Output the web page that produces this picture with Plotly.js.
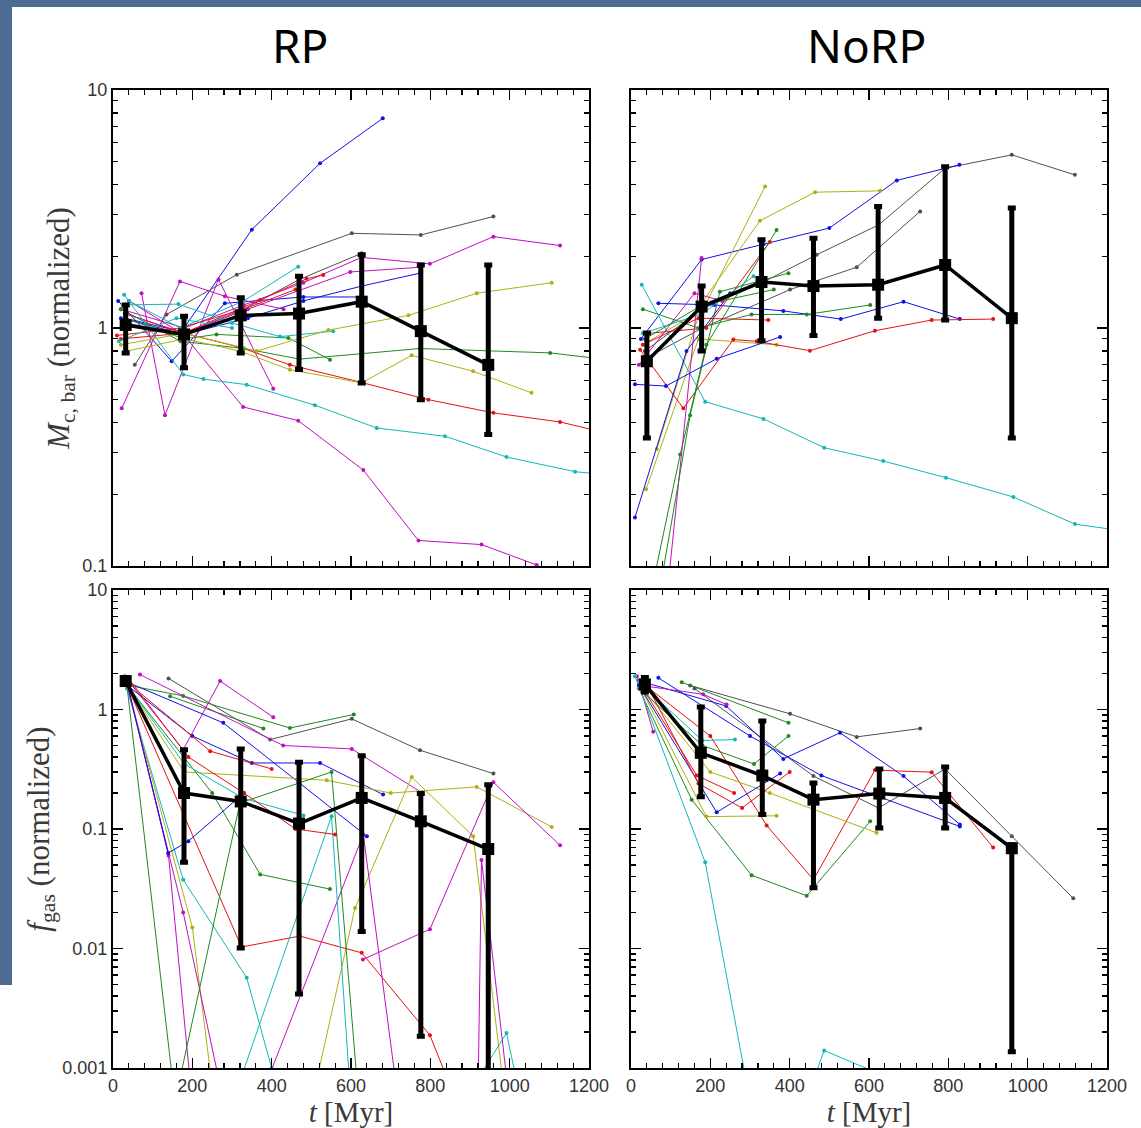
<!DOCTYPE html>
<html>
<head>
<meta charset="utf-8">
<script src="https://cdn.plot.ly/plotly-3.0.1.min.js"></script>
<style>html,body{margin:0;padding:0;background:#fff;}#chart{width:1141px;height:1128px;}</style>
</head>
<body>
<div id="chart"></div>
<script>
// ---------- mean curves (black, with error bars) ----------
const meanT_RP_M   = [32, 179, 322, 469, 627, 776, 946];
const mean_RP_M    = [1.03, 0.94, 1.13, 1.15, 1.29, 0.97, 0.70];
const hi_RP_M      = [1.25, 1.12, 1.34, 1.65, 2.03, 1.84, 1.84];
const lo_RP_M      = [0.785, 0.68, 0.785, 0.67, 0.588, 0.50, 0.357];

const meanT_NoRP_M = [40, 178, 329, 460, 623, 792, 960];
const mean_NoRP_M  = [0.725, 1.23, 1.56, 1.50, 1.52, 1.84, 1.10];
const hi_NoRP_M    = [0.953, 1.50, 2.35, 2.38, 3.24, 4.76, 3.19];
const lo_NoRP_M    = [0.345, 0.80, 0.885, 0.93, 1.10, 1.08, 0.345];

const meanT_RP_F   = [32, 179, 322, 469, 627, 776, 946];
const mean_RP_F    = [1.73, 0.20, 0.17, 0.111, 0.182, 0.116, 0.068];
const hi_RP_F      = [1.85, 0.46, 0.468, 0.362, 0.41, 0.198, 0.235];
const lo_RP_F      = [1.62, 0.0526, 0.0101, 0.00416, 0.0139, 0.00184, 0.0005];

const meanT_NoRP_F = [35, 176, 331, 460, 626, 792, 960];
const mean_NoRP_F  = [1.62, 0.434, 0.28, 0.176, 0.198, 0.182, 0.069];
const hi_NoRP_F    = [1.85, 1.05, 0.80, 0.243, 0.318, 0.33, 0.074];
const lo_NoRP_F    = [1.40, 0.186, 0.132, 0.0322, 0.102, 0.102, 0.00137];

// ---------- individual galaxy tracks ----------
// colour codes: b blue, r red, g green, c cyan, m magenta, y yellow, k grey
const trackT_RP_M = [
  [20, 170, 350, 522, 680],
  [13, 148, 282, 480, 627],
  [30, 190, 340, 480, 627, 774],
  [55, 135, 312, 602, 776, 959],
  [30, 180, 330, 470, 627],
  [20, 180, 330, 480, 627, 799, 959, 1127],
  [30, 180, 340, 598, 774],
  [22, 169, 282, 430],
  [72, 131, 266, 404],
  [40, 177, 328, 467, 631, 770, 929, 1068, 1160],
  [20, 177, 371, 488, 530],
  [30, 179, 320, 446, 627, 795, 959, 1127, 1220],
  [10, 170, 330, 460],
  [30, 179, 261, 442, 547],
  [20, 170, 330, 470, 627, 774, 1102, 1220],
  [40, 170, 330, 467],
  [25, 165, 300, 421, 555],
  [28, 177, 228, 337, 509, 665, 837, 992, 1165, 1220],
  [20, 180, 362, 543, 627, 745, 917, 1106],
  [35, 180, 320, 446, 627, 753, 908, 1055],
  [15, 160, 300]
];
const trackV_RP_M = [
  [1.10, 0.95, 2.59, 4.92, 7.6],
  [1.30, 0.725, 1.27, 1.35, 1.35],
  [1.10, 0.95, 1.10, 1.30, 1.50, 1.70],
  [0.70, 1.14, 1.675, 2.5, 2.46, 2.94],
  [1.05, 0.95, 1.20, 1.60, 2.06],
  [1.20, 1.00, 1.25, 1.55, 1.98, 1.86, 2.42, 2.22],
  [1.15, 0.95, 1.20, 1.72, 1.80],
  [0.46, 1.57, 1.36, 1.20],
  [1.40, 0.43, 1.60, 0.556],
  [1.30, 0.94, 0.466, 0.408, 0.253, 0.128, 0.123, 0.101, 0.085],
  [0.90, 0.95, 1.31, 1.61, 1.67],
  [1.15, 0.95, 0.83, 0.70, 0.59, 0.50, 0.44, 0.403, 0.37],
  [0.93, 1.00, 1.20, 1.45],
  [1.10, 0.90, 0.94, 0.908, 0.736],
  [1.20, 0.88, 0.82, 0.74, 0.78, 0.82, 0.786, 0.745],
  [1.30, 1.00, 1.30, 1.81],
  [1.25, 1.26, 1.05, 0.92, 0.97],
  [1.38, 0.638, 0.61, 0.578, 0.474, 0.38, 0.351, 0.287, 0.249, 0.244],
  [0.85, 0.95, 0.80, 0.98, 1.04, 1.13, 1.40, 1.55],
  [0.80, 0.90, 0.80, 0.668, 0.588, 0.768, 0.658, 0.534],
  [0.88, 1.10, 1.00]
];
const trackC_RP_M = ['b','b','b','k','k','m','m','m','m','m','r','r','r','g','g','c','c','c','y','y','c'];

const trackT_NoRP_M = [
  [35, 178, 330, 468, 624, 792, 960, 1119],
  [40, 180, 401, 569, 729],
  [25, 178, 334, 500, 670, 828],
  [30, 182, 338],
  [65, 182, 325, 464, 628],
  [38, 170, 367],
  [69, 210, 384, 529, 687, 829],
  [23, 132, 258, 317, 451, 615, 758, 913],
  [30, 170, 346],
  [45, 190, 350],
  [30, 170, 304, 443, 603],
  [27, 187, 334, 487, 636, 794, 964, 1119, 1220],
  [45, 124, 190, 367],
  [80, 178],
  [60, 149, 224, 397],
  [10, 88, 216, 376],
  [10, 140, 250],
  [30, 180, 309],
  [20, 160, 230],
  [35, 180, 360]
];
const trackV_NoRP_M = [
  [0.80, 1.20, 1.55, 2.03, 2.71, 4.69, 5.34, 4.4],
  [0.75, 1.00, 1.45, 1.80, 3.09],
  [0.90, 1.94, 2.25, 2.63, 4.17, 4.85],
  [0.85, 1.20, 3.93],
  [0.31, 1.30, 2.82, 3.72, 3.77],
  [0.21, 0.90, 0.85],
  [1.27, 1.25, 1.18, 1.09, 1.29, 1.09],
  [0.81, 0.46, 0.894, 0.879, 0.803, 0.974, 1.08, 1.09],
  [0.85, 1.10, 1.08],
  [0.95, 1.00, 2.30],
  [1.20, 1.00, 1.14, 1.14, 1.25],
  [1.52, 0.49, 0.415, 0.314, 0.276, 0.235, 0.195, 0.15, 0.142],
  [0.07, 0.294, 0.85, 2.58],
  [0.05, 1.97],
  [0.06, 0.43, 1.42, 1.70],
  [0.58, 0.57, 0.743, 0.917],
  [0.16, 0.80, 1.40],
  [0.95, 1.15, 1.65],
  [0.70, 1.40, 1.30],
  [0.90, 1.25, 1.45]
];
const trackC_NoRP_M = ['k','k','b','y','y','y','b','r','r','r','g','c','g','m','g','b','b','c','m','g'];

const trackT_RP_F = [
  [140, 396, 602, 774, 959],
  [144, 379],
  [35, 177, 446, 607],
  [35, 177, 270, 404],
  [68, 429, 602, 780],
  [35, 278, 640],
  [35, 200, 350, 522, 681],
  [35, 245, 400],
  [35, 180, 539, 700, 917, 1106],
  [500, 610, 753, 908, 990],
  [630, 799, 959, 1127],
  [35, 324, 471, 627, 799, 880],
  [35, 250, 371, 547],
  [35, 177, 337, 400, 440],
  [35, 150],
  [35, 140, 200],
  [35, 200, 250],
  [30, 177, 280],
  [880, 992, 1030],
  [390, 631, 720],
  [35, 139, 190, 330],
  [160, 320, 551, 620],
  [300, 551, 600],
  [30, 180, 330, 480],
  [40, 190, 330, 460, 560],
  [920, 929, 1000]
];
const trackV_RP_F = [
  [1.82, 0.56, 0.835, 0.456, 0.291],
  [1.29, 0.693],
  [1.60, 1.30, 0.70, 0.908],
  [1.80, 0.46, 1.73, 0.862],
  [1.96, 0.50, 0.468, 0.20],
  [1.70, 0.773, 0.087],
  [1.60, 0.60, 0.357, 0.357, 0.194],
  [1.70, 0.448, 0.318],
  [1.60, 0.30, 0.256, 0.20, 0.225, 0.104],
  [0.0005, 0.0218, 0.272, 0.087, 0.0005],
  [0.0081, 0.0145, 0.246, 0.073],
  [1.60, 0.0103, 0.0127, 0.0092, 0.00188, 0.0004],
  [1.60, 0.20, 0.0417, 0.0314],
  [1.50, 0.0376, 0.0057, 0.001, 0.0005],
  [1.60, 0.0008],
  [1.70, 0.06, 0.0005],
  [1.60, 0.015, 0.0007],
  [1.90, 0.02, 0.0005],
  [0.0005, 0.00196, 0.0005],
  [0.0008, 0.09, 0.0005],
  [1.70, 0.063, 0.079, 0.20],
  [0.0006, 0.165, 0.30, 0.0005],
  [0.0005, 0.128, 0.0005],
  [1.70, 0.35, 0.18, 0.13],
  [1.80, 0.40, 0.20, 0.10, 0.09],
  [0.0005, 0.055, 0.0005]
];
const trackC_RP_F = ['k','g','g','m','m','b','b','r','y','y','m','r','g','c','g','m','y','m','c','m','b','g','c','c','r','m'];

const trackT_NoRP_F = [
  [149, 401, 569, 729],
  [160, 460, 624, 792, 960, 1115],
  [30, 240, 384, 527, 687, 829],
  [20, 200, 342, 460, 615, 758, 913],
  [20, 153, 304, 443, 603],
  [128, 397],
  [15, 56],
  [20, 182, 241],
  [10, 187, 290],
  [460, 487, 624],
  [25, 190, 367],
  [30, 200, 350, 619],
  [20, 216, 376],
  [69, 300, 480, 829],
  [40, 170, 280, 400],
  [30, 180, 310, 397],
  [25, 166, 260],
  [20, 180, 262]
];
const trackV_NoRP_F = [
  [1.59, 0.92, 0.59, 0.693],
  [1.50, 0.277, 0.15, 0.318, 0.087, 0.0263],
  [1.70, 1.07, 0.386, 0.638, 0.277, 0.109],
  [1.75, 0.60, 0.107, 0.0377, 0.311, 0.299, 0.07],
  [1.50, 0.176, 0.041, 0.0276, 0.116],
  [1.69, 0.773],
  [1.90, 0.65],
  [1.60, 1.34, 1.10],
  [1.90, 0.0527, 0.0008],
  [0.0008, 0.0014, 0.0009],
  [1.50, 0.127, 0.129],
  [1.50, 0.30, 0.20, 0.093],
  [1.60, 0.138, 0.291],
  [1.84, 0.60, 0.28, 0.105],
  [1.60, 0.24, 0.15, 0.30],
  [1.40, 0.50, 0.35, 0.60],
  [1.60, 0.28, 0.20],
  [1.70, 0.55, 0.56]
];
const trackC_NoRP_F = ['k','k','b','r','g','g','m','m','c','c','y','y','b','b','r','g','r','c'];

// ---------- tick labels ----------
const yTickVals_M = [0.1, 1, 10];
const yTickText_M = ['0.1', '1', '10'];
const yTickVals_F = [0.001, 0.01, 0.1, 1, 10];
const yTickText_F = ['0.001', '0.01', '0.1', '1', '10'];
const xTickVals = [0, 200, 400, 600, 800, 1000, 1200];
const xTickText = ['0', '200', '400', '600', '800', '1000', '1200'];

// ---------- build ----------
const COL = {b:'#1010e8', r:'#e81010', g:'#1e8a1e', c:'#10b8b8', m:'#c010c0', y:'#b0b010', k:'#505050'};

function minorLog(lo, hi) {
  const out = [];
  for (let e = lo; e < hi; e++) for (let d = 2; d <= 9; d++) out.push(d * Math.pow(10, e));
  return out;
}

const traces = [];
function addTracks(T, V, C, xa, ya) {
  for (let i = 0; i < T.length; i++) {
    traces.push({
      x: T[i], y: V[i], xaxis: xa, yaxis: ya, type: 'scatter', mode: 'lines+markers',
      line: {color: COL[C[i]], width: 1}, marker: {color: COL[C[i]], size: 4},
      hoverinfo: 'skip'
    });
  }
}
function addMean(t, m, hi, lo, xa, ya) {
  traces.push({
    x: t, y: m, xaxis: xa, yaxis: ya, type: 'scatter', mode: 'lines+markers',
    line: {color: '#000', width: 3.5}, marker: {color: '#000', size: 12, symbol: 'square'},
    error_y: {type: 'data', symmetric: false,
      array: hi.map((h, i) => h - m[i]), arrayminus: lo.map((l, i) => m[i] - l),
      color: '#000', thickness: 5, width: 4}
  });
}
addTracks(trackT_RP_M, trackV_RP_M, trackC_RP_M, 'x', 'y');
addTracks(trackT_NoRP_M, trackV_NoRP_M, trackC_NoRP_M, 'x2', 'y2');
addTracks(trackT_RP_F, trackV_RP_F, trackC_RP_F, 'x3', 'y3');
addTracks(trackT_NoRP_F, trackV_NoRP_F, trackC_NoRP_F, 'x4', 'y4');
addMean(meanT_RP_M, mean_RP_M, hi_RP_M, lo_RP_M, 'x', 'y');
addMean(meanT_NoRP_M, mean_NoRP_M, hi_NoRP_M, lo_NoRP_M, 'x2', 'y2');
addMean(meanT_RP_F, mean_RP_F, hi_RP_F, lo_RP_F, 'x3', 'y3');
addMean(meanT_NoRP_F, mean_NoRP_F, hi_NoRP_F, lo_NoRP_F, 'x4', 'y4');

const tickFont = {family: 'Liberation Sans, Arial, sans-serif', size: 18, color: '#333'};
const titleFont = {family: 'Liberation Serif, DejaVu Serif, serif', size: 31, color: '#3a3a3a'};
const xTitleFont = {family: 'Liberation Serif, DejaVu Serif, serif', size: 29, color: '#3a3a3a'};

function xAxis(domain, anchor, labels) {
  const a = {
    domain: domain, anchor: anchor, range: [0, 1200], type: 'linear',
    showgrid: false, zeroline: false, showline: true, linecolor: '#000', linewidth: 2, mirror: 'ticks',
    ticks: 'inside', ticklen: 10, tickwidth: 1.5, tickcolor: '#000',
    tickmode: 'array', tickvals: xTickVals, ticktext: xTickText,
    showticklabels: labels, tickfont: tickFont,
    minor: {ticks: 'inside', ticklen: 5, tickwidth: 1.2, tickcolor: '#000', dtick: 40, tick0: 0, showgrid: false}
  };
  if (labels) a.title = {text: '<i>t</i> [Myr]', font: xTitleFont, standoff: 4};
  return a;
}
function yAxis(domain, anchor, range, vals, text, labels, title) {
  const a = {
    domain: domain, anchor: anchor, type: 'log', range: range,
    showgrid: false, zeroline: false, showline: true, linecolor: '#000', linewidth: 2, mirror: 'ticks',
    ticks: 'inside', ticklen: 10, tickwidth: 1.5, tickcolor: '#000',
    tickmode: 'array', tickvals: vals, ticktext: text,
    showticklabels: labels, tickfont: tickFont,
    minor: {ticks: 'inside', ticklen: 5, tickwidth: 1.2, tickcolor: '#000', tickmode: 'array',
      tickvals: minorLog(range[0], range[1]), showgrid: false}
  };
  if (title) a.title = {text: title, font: titleFont, standoff: 4};
  return a;
}

const dxL = [113 / 1141, 589 / 1141], dxR = [631 / 1141, 1107 / 1141];
const dyT = [(1128 - 566) / 1128, (1128 - 90) / 1128], dyB = [(1128 - 1068) / 1128, (1128 - 590) / 1128];

const layout = {
  width: 1141, height: 1128, margin: {l: 0, r: 0, t: 0, b: 0},
  paper_bgcolor: '#ffffff', plot_bgcolor: '#ffffff', showlegend: false,
  xaxis: xAxis(dxL, 'y', false),
  yaxis: yAxis(dyT, 'x', [-1, 1], yTickVals_M, yTickText_M, true, '<i>M</i><sub>c, bar</sub> (normalized)'),
  xaxis2: xAxis(dxR, 'y2', false),
  yaxis2: yAxis(dyT, 'x2', [-1, 1], yTickVals_M, yTickText_M, false, null),
  xaxis3: xAxis(dxL, 'y3', true),
  yaxis3: yAxis(dyB, 'x3', [-3, 1], yTickVals_F, yTickText_F, true, '<i>f</i><sub>gas</sub> (normalized)'),
  xaxis4: xAxis(dxR, 'y4', true),
  yaxis4: yAxis(dyB, 'x4', [-3, 1], yTickVals_F, yTickText_F, false, null),
  shapes: [
    {type: 'rect', xref: 'paper', yref: 'paper', x0: 0, x1: 1, y0: 1 - 7 / 1128, y1: 1, fillcolor: '#4c6c94', line: {width: 0}, layer: 'below'},
    {type: 'rect', xref: 'paper', yref: 'paper', x0: 0, x1: 12 / 1141, y0: (1128 - 985) / 1128, y1: 1, fillcolor: '#4c6c94', line: {width: 0}, layer: 'below'}
  ],
  annotations: [
    {text: 'RP', xref: 'paper', yref: 'paper', x: 300 / 1141, y: 1 - 45 / 1128, xanchor: 'center', yanchor: 'middle',
      showarrow: false, font: {family: 'Noto Sans, sans-serif', size: 46, color: '#000'}},
    {text: 'NoRP', xref: 'paper', yref: 'paper', x: 866 / 1141, y: 1 - 45 / 1128, xanchor: 'center', yanchor: 'middle',
      showarrow: false, font: {family: 'Noto Sans, sans-serif', size: 46, color: '#000'}}
  ]
};

Plotly.newPlot('chart', traces, layout, {displayModeBar: false, staticPlot: true});
</script>
</body>
</html>
